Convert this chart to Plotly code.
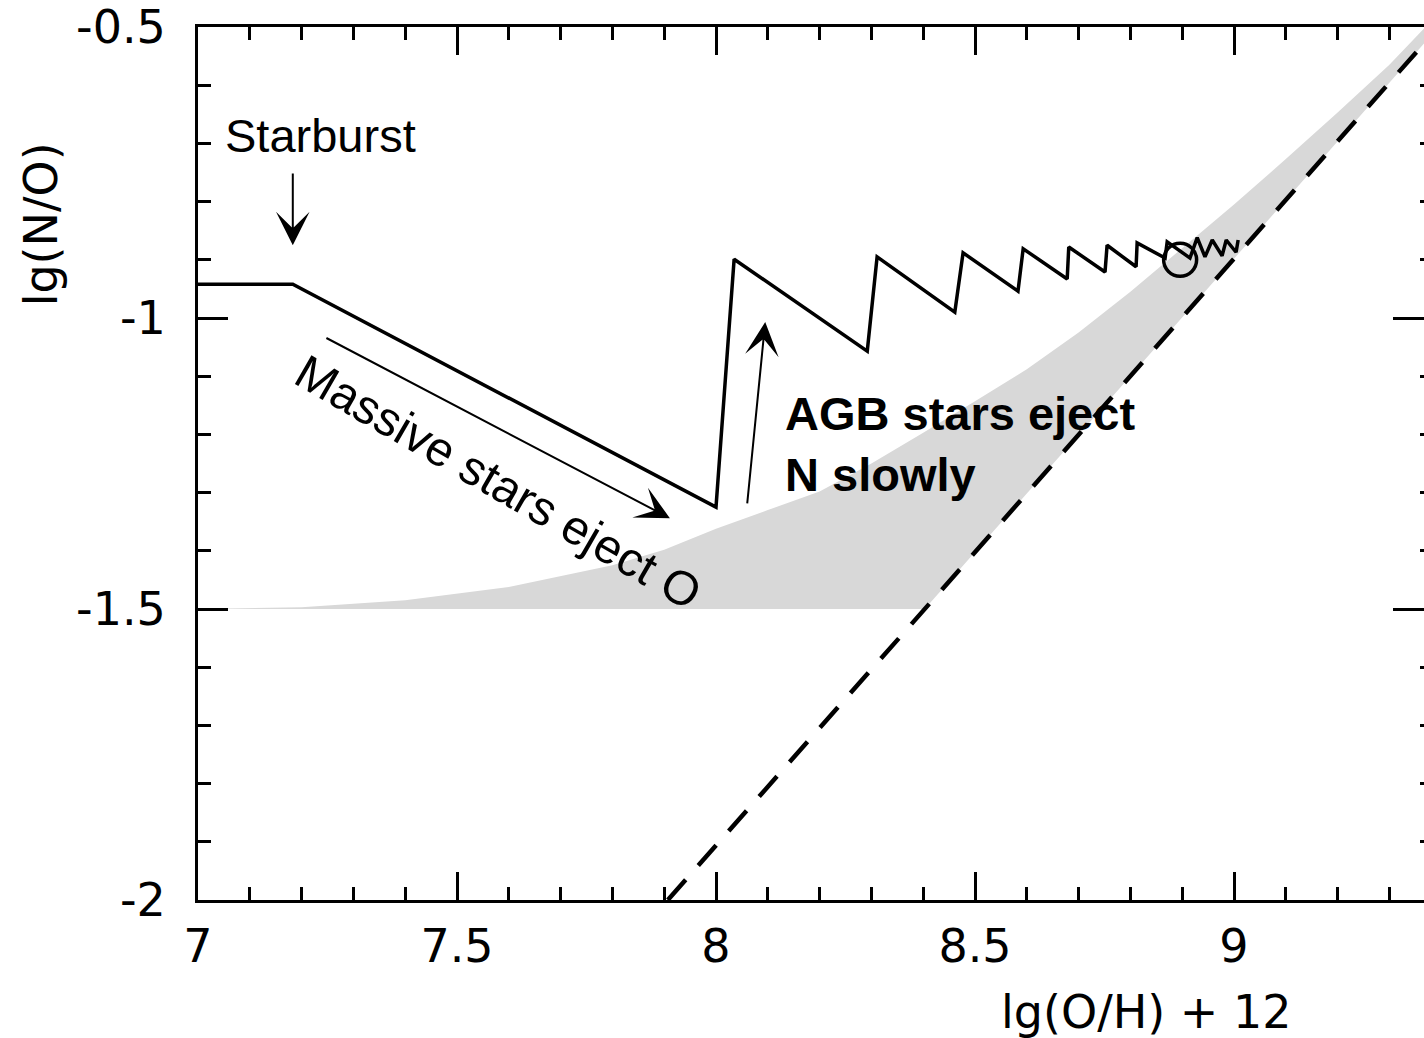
import plotly.graph_objects as go

# Chemical-evolution track after a starburst: lg(N/O) versus lg(O/H)+12
track_x = [7.0, 7.183, 8.000, 8.035, 8.292, 8.311, 8.461, 8.477, 8.583, 8.593,
           8.678, 8.681, 8.751, 8.755, 8.811, 8.813, 8.867, 8.871, 8.915, 8.929,
           8.944, 8.958, 8.977, 8.985, 9.004, 9.008]
track_y = [-0.942, -0.942, -1.325, -0.899, -1.057, -0.895, -0.990, -0.888, -0.954, -0.881,
           -0.933, -0.878, -0.921, -0.875, -0.912, -0.871, -0.897, -0.869, -0.897, -0.862,
           -0.895, -0.866, -0.893, -0.866, -0.887, -0.866]

# Present-day position on the track
now_x = [8.896]
now_y = [-0.900]

# Secondary-nitrogen relation (dashed)
secondary_x = [7.907, 9.380]
secondary_y = [-2.000, -0.515]

# Observed region: upper envelope, then the lower boundary back to the start
band_upper_x = [7.0, 7.2, 7.4, 7.6, 7.8, 7.9, 8.0, 8.1, 8.2, 8.3, 8.4,
                8.5, 8.6, 8.7, 8.8, 8.9, 9.0, 9.1, 9.2, 9.3, 9.38]
band_upper_y = [-1.500, -1.497, -1.485, -1.462, -1.425, -1.398, -1.362, -1.330, -1.298, -1.250, -1.197,
                -1.143, -1.088, -1.025, -0.955, -0.880, -0.805, -0.727, -0.647, -0.565, -0.490]
band_lower_x = [9.380, 8.403, 7.000]
band_lower_y = [-0.515, -1.500, -1.500]

x_ticks = [7, 7.5, 8, 8.5, 9]
x_tick_text = ["7", "7.5", "8", "8.5", "9"]
y_ticks = [-2, -1.5, -1, -0.5]
y_tick_text = ["-2", "-1.5", "-1", "-0.5"]

x_range = [7.0, 9.3668]
y_range = [-2.0, -0.5]

TICK_FONT = dict(family="DejaVu Sans", size=46, color="black")
TEXT_FONT = "Liberation Sans"

fig = go.Figure()

fig.add_trace(go.Scatter(
    x=band_upper_x + band_lower_x, y=band_upper_y + band_lower_y,
    fill="toself", fillcolor="#d8d8d8", mode="none",
    hoverinfo="skip", showlegend=False))

fig.add_trace(go.Scatter(
    x=secondary_x, y=secondary_y, mode="lines",
    line=dict(color="black", width=4.5, dash="27px,19px"),
    yaxis="y2", showlegend=False))

fig.add_trace(go.Scatter(
    x=track_x, y=track_y, mode="lines",
    line=dict(color="black", width=3.5),
    showlegend=False))

fig.add_trace(go.Scatter(
    x=now_x, y=now_y, mode="markers",
    marker=dict(symbol="circle-open", size=33, color="black", line=dict(width=3.5)),
    showlegend=False))

axis_common = dict(showgrid=False, zeroline=False, tickcolor="black", tickwidth=3)

fig.update_layout(
    width=1424, height=1038,
    margin=dict(l=198, r=0, t=27, b=138),
    paper_bgcolor="white", plot_bgcolor="white",
    showlegend=False,
    xaxis=dict(range=x_range, tickvals=x_ticks, ticktext=x_tick_text,
               ticks="inside", ticklen=28, showline=True, linecolor="black", linewidth=3,
               mirror="ticks", tickfont=TICK_FONT, ticklabelstandoff=4,
               minor=dict(dtick=0.1, tick0=7, ticks="inside", ticklen=13,
                          tickwidth=3, tickcolor="black", showgrid=False),
               **axis_common),
    yaxis=dict(range=y_range, tickvals=y_ticks, ticktext=y_tick_text,
               ticks="inside", ticklen=30, showline=True, linecolor="black", linewidth=3,
               mirror=False, tickfont=TICK_FONT, ticklabelstandoff=20,
               minor=dict(dtick=0.1, tick0=-2, ticks="inside", ticklen=13,
                          tickwidth=3, tickcolor="black", showgrid=False),
               **axis_common),
    yaxis2=dict(range=y_range, overlaying="y", side="right", tickvals=y_ticks,
                ticks="inside", ticklen=31, showline=False, showticklabels=False,
                minor=dict(dtick=0.1, tick0=-2, ticks="inside", ticklen=4,
                           tickwidth=3, tickcolor="black", showgrid=False),
                **axis_common),
)

# Axis titles
fig.add_annotation(text="lg(O/H) + 12", xref="paper", yref="paper", x=0.774, y=-0.128,
                   showarrow=False, font=TICK_FONT, xanchor="center", yanchor="middle")
fig.add_annotation(text="lg(N/O)", xref="paper", yref="paper", x=-0.128, y=0.774,
                   showarrow=False, font=TICK_FONT, textangle=-90,
                   xanchor="center", yanchor="middle")

# Labels
fig.add_annotation(text="Starburst", x=7.236, y=-0.686, showarrow=False,
                   font=dict(family=TEXT_FONT, size=47, color="black"))
fig.add_annotation(text="Massive stars eject O", x=7.580, y=-1.283, showarrow=False,
                   textangle=30, font=dict(family=TEXT_FONT, size=48, color="black"))
fig.add_annotation(text="<b>AGB stars eject</b><br><b>N slowly</b>", x=8.129, y=-1.2165,
                   showarrow=False, xanchor="left", yanchor="middle", align="left",
                   font=dict(family=TEXT_FONT, size=47, color="black"))

# Arrows: (tail) -> (head)
arrows = [
    ((7.183, -0.749), (7.183, -0.875)),
    ((7.245, -1.033), (7.911, -1.344)),
    ((8.060, -1.321), (8.095, -1.007)),
]
for (tx, ty), (hx, hy) in arrows:
    fig.add_annotation(x=hx, y=hy, ax=tx, ay=ty, xref="x", yref="y", axref="x", ayref="y",
                       text="", showarrow=True, arrowhead=3, arrowwidth=2, arrowsize=2.8,
                       arrowcolor="black", standoff=0, startstandoff=0)

fig.write_html("out.html")
